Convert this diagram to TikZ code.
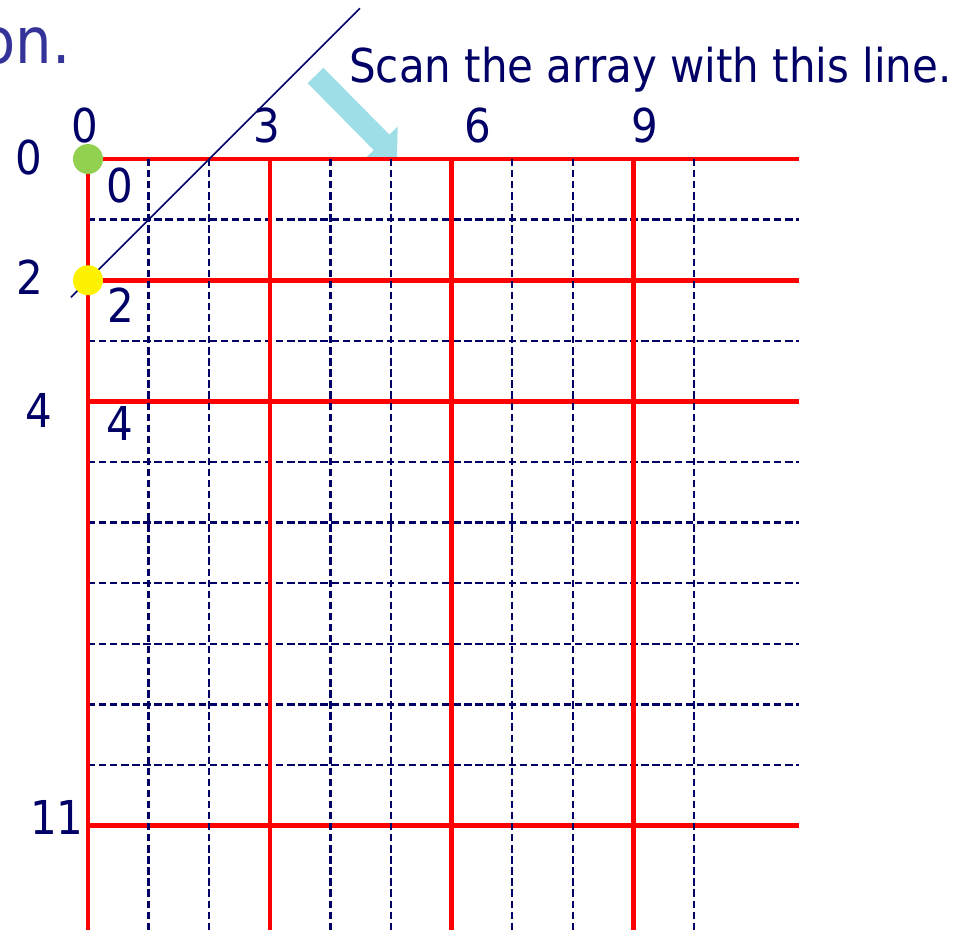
\documentclass[tikz,border=0pt]{standalone}
\usepackage{fontspec}
\setmainfont{DejaVu Sans Condensed}
\usepackage{xcolor}
\usetikzlibrary{arrows.meta}
\definecolor{navy}{HTML}{000066}
\definecolor{titleblue}{HTML}{333399}
\definecolor{scancyan}{HTML}{9EDEE6}
\definecolor{dotgreen}{HTML}{92D050}

\begin{document}
\begin{tikzpicture}[
    x=45.45pt, y=-45.45pt,
    major/.style={red, line width=3.4pt},
    minor/.style={navy, line width=1.8pt, dash pattern=on 5.5pt off 2.8pt},
    lbl/.style={inner sep=0pt, text=navy, font=\fontsize{35}{40}\selectfont},
    spot/.style={circle, inner sep=0pt, minimum size=22.5pt},
    scanline/.style={navy, line width=1.1pt},
    >={Triangle[length=16.5pt, width=33pt]}
]
\useasboundingbox (-1.452,-2.624) rectangle (14.455,12.723);

% Title remnant and caption
\node[inner sep=0pt, anchor=base east, text=titleblue, font=\fontsize{48}{56}\selectfont] (title) at (-0.281,-1.584) {on.};
\node[lbl, anchor=base west] (caption) at (4.307,-1.271) {Scan the array with this line.};

% Pointer arrow
\coordinate (arrowtail) at (3.754,-1.378);
\coordinate (arrowtip) at (5.099,-0.017);
\draw[->, scancyan, line width=16.5pt] (arrowtail) -- (arrowtip);

% Grid
\foreach \r in {1,3,5,6,7,8,9,10}
    \draw[minor] (0,\r) -- (11.73,\r);
\foreach \r in {0,2,4,11}
    \draw[major] (0,\r) -- (11.73,\r);
\foreach \c in {1,2,4,5,7,8,10}
    \draw[minor] (\c,0) -- (\c,12.723);
\foreach \c in {0,3,6,9}
    \draw[major] (\c,0) -- (\c,12.723);

% Row labels
\node[lbl] (row0) at (-0.974,-0.017) {0};
\node[lbl] (row2) at (-0.957,1.947) {2};
\node[lbl] (row4) at (-0.809,4.142) {4};
\node[lbl] (row11) at (-0.512,10.86) {11};

% Column labels
\node[lbl] (col0) at (-0.05,-0.561) {0};
\node[lbl] (col3) at (2.954,-0.561) {3};
\node[lbl] (col6) at (6.436,-0.561) {6};
\node[lbl] (col9) at (9.19,-0.561) {9};

% Cell labels
\node[lbl] (cell0) at (0.528,0.429) {0};
\node[lbl] (cell2) at (0.545,2.409) {2};
\node[lbl] (cell4) at (0.528,4.356) {4};

% Scan line and its points
\coordinate (scanlow) at (-0.281,2.281);
\coordinate (scanhigh) at (4.488,-2.488);
\draw[scanline] (scanlow) -- (scanhigh);
\node[spot, fill=dotgreen] (start) at (0,0) {};
\node[spot, fill=yellow] (next) at (0,2) {};

\end{tikzpicture}
\end{document}
